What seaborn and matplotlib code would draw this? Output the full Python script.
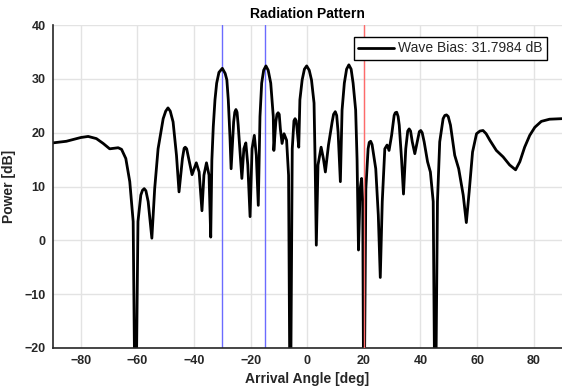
import numpy as np
import pandas as pd
import matplotlib
matplotlib.use("Agg")
import matplotlib.pyplot as plt
import seaborn as sns

# Arrival angle [deg] and power [dB]
angle = [-89.9, -85.1, -80.0, -77.4, -74.5, -72.1, -69.8, -66.8, -65.6, -64.1, -62.7, -61.5, -60.7,
         -59.8, -58.8, -58.2, -57.6, -57.0, -56.2, -54.9, -53.9, -52.7, -50.9, -50.0, -49.2, -48.4,
         -47.4, -46.2, -45.3, -44.1, -43.5, -43.1, -42.6, -41.9, -40.7, -39.2, -38.2, -37.2, -36.5,
         -35.6, -34.7, -34.1, -33.7, -33.2, -32.6, -32.0, -31.2, -30.0, -29.0, -28.4, -27.9, -27.3,
         -26.9, -26.0, -25.6, -25.2, -24.8, -24.4, -23.1, -22.4, -21.7, -21.0, -20.2, -19.5, -18.7,
         -18.0, -17.3, -17.0, -16.7, -16.1, -15.4, -14.6, -13.8, -12.9, -12.0, -11.8, -11.1, -10.7,
         -10.3, -9.9, -9.5, -8.9, -8.2, -7.3, -6.6, -6.0, -5.3, -4.7, -4.3, -3.9, -3.6, -3.0,
         -2.6, -1.8, -1.0, -0.2, 0.7, 1.5, 2.4, 2.8, 3.2, 3.8, 4.9, 5.7, 6.4, 7.5, 8.8, 9.3, 9.9,
         10.4, 10.9, 11.7, 12.3, 13.1, 13.9, 14.7, 15.5, 16.2, 17.1, 17.6, 18.1, 18.7, 19.2, 19.6,
         20.0, 20.7, 21.5, 21.9, 22.4, 22.9, 23.3, 24.2, 25.1, 25.8, 26.5, 27.4, 28.2, 28.9, 29.8,
         30.7, 31.1, 31.6, 32.1, 32.5, 33.3, 34.0, 34.8, 35.5, 36.0, 36.5, 37.1, 38.0, 39.2, 39.6,
         40.1, 40.6, 41.3, 42.5, 43.5, 44.5, 45.2, 46.0, 46.8, 48.0, 48.6, 49.2, 49.8, 50.6, 52.1,
         53.5, 55.1, 56.2, 57.2, 58.4, 59.8, 61.0, 62.1, 63.2, 64.5, 66.8, 69.2, 71.5, 73.6, 75.1,
         76.8, 78.6, 80.4, 82.7, 85.6, 89.9]
power = [18.1, 18.4, 19.1, 19.3, 18.9, 18.0, 17.0, 17.2, 16.9, 15.2, 10.9, 3.5, -40.0,
         3.5, 8.4, 9.3, 9.6, 9.2, 7.2, 0.4, 9.6, 17.0, 22.6, 24.0, 24.6, 24.0,
         22.0, 15.8, 9.0, 15.2, 17.1, 17.3, 17.0, 15.2, 12.2, 14.4, 12.7, 5.5, 12.1,
         14.4, 12.1, 0.6, 14.9, 21.1, 26.1, 29.2, 31.2, 31.95, 31.0, 29.8, 26.1, 19.2,
         13.3, 22.0, 23.8, 24.3, 23.8, 21.4, 11.5, 17.0, 18.1, 14.0, 4.4, 17.0, 19.5,
         15.8, 6.5, 15.0, 23.0, 29.2, 31.6, 32.4, 31.6, 29.2, 23.0, 16.7, 22.0, 23.4,
         23.7, 23.4, 20.7, 18.0, 19.8, 18.6, 12.1, -40.0, 17.0, 22.2, 22.6, 22.2, 20.7, 17.3,
         26.1, 29.8, 31.8, 32.4, 31.6, 29.8, 25.5, 14.0, -0.9, 14.0, 17.3, 15.2, 12.7, 17.7, 22.0, 23.4, 23.9,
         23.2, 20.1, 10.9, 24.2, 29.2, 31.8, 32.6, 31.8, 29.2, 24.2, 15.0, -1.8, 9.6, 11.5, 7.2,
         -40.0, 9.6, 17.0, 18.2, 18.4, 17.8, 16.4, 13.3, 4.7, -6.9, 7.2, 17.0, 17.7, 16.7, 19.5,
         23.2, 23.7, 23.8, 23.0, 21.4, 15.2, 8.6, 17.0, 20.3, 20.7, 20.3, 18.3, 16.1, 19.2, 20.2,
         20.4, 20.0, 18.3, 14.6, 12.7, 7.2, -40.0, 7.2, 18.3, 22.6, 23.2, 23.3, 23.0, 21.4, 15.8,
         13.3, 8.4, 3.3, 9.0, 16.4, 19.8, 20.3, 20.4, 19.8, 18.6, 16.7, 15.5, 14.0, 13.1, 14.6,
         17.3, 19.5, 21.0, 22.1, 22.5, 22.6]

arrival_blue = [-30, -15]
arrival_red = [20]
x_ticks = [-80, -60, -40, -20, 0, 20, 40, 60, 80]
y_ticks = [-20, -10, 0, 10, 20, 30, 40]
legend_label = "Wave Bias: 31.7984 dB"

sns.set_theme(style="white")
plt.rcParams['font.family'] = ['Liberation Sans', 'DejaVu Sans']

df = pd.DataFrame({"angle": angle, "power": power})

fig = plt.figure(figsize=(5.62, 3.92), dpi=100)
ax = fig.add_axes([52.5 / 562, 1 - 348 / 392, (562 - 52.5) / 562, (348 - 25) / 392])

ax.grid(True, color="#e3e3e3", linewidth=1.0)
ax.set_axisbelow(True)

for xv in arrival_blue:
    ax.axvline(xv, color="#6b6bff", linewidth=1.0, zorder=1.5)
for xv in arrival_red:
    ax.axvline(xv, color="#ff6b6b", linewidth=1.0, zorder=3)

sns.lineplot(data=df, x="angle", y="power", color="black", linewidth=2.0, ax=ax,
             label=legend_label, sort=False, zorder=2)
ax.get_lines()[-1].set_solid_joinstyle("round")

ax.set_xlim(-90, 90)
ax.set_ylim(-20, 40)
ax.set_xticks(x_ticks)
ax.set_yticks(y_ticks)
for s in ["top", "right"]:
    ax.spines[s].set_visible(False)
for s in ["left", "bottom"]:
    ax.spines[s].set_color("#262626")
    ax.spines[s].set_linewidth(1.2)
ax.tick_params(direction="in", length=4, width=1.2, color="#262626", labelsize=9,
               labelcolor="#262626", pad=5)
for lab in ax.get_xticklabels() + ax.get_yticklabels():
    lab.set_fontweight("bold")

ax.set_xlabel("Arrival Angle [deg]", fontsize=10, fontweight="bold", color="#262626", labelpad=4)
ax.set_ylabel("Power [dB]", fontsize=10, fontweight="bold", color="#262626", labelpad=6)
ax.set_title("Radiation Pattern", fontsize=10, fontweight="bold", color="black", pad=5,
             x=(307.3 - 52.5) / (562 - 52.5))

leg = ax.legend(loc="upper right", bbox_to_anchor=((546.5 - 52.5) / (562 - 52.5), (348 - 37.3) / 323),
                fontsize=10, frameon=True, fancybox=False, borderaxespad=0, handlelength=2.6,
                borderpad=0.3, handletextpad=0.25)
leg.get_frame().set_edgecolor("black")
leg.get_frame().set_linewidth(1.0)
leg.get_frame().set_alpha(1)

fig.savefig("out.png", dpi=100)
